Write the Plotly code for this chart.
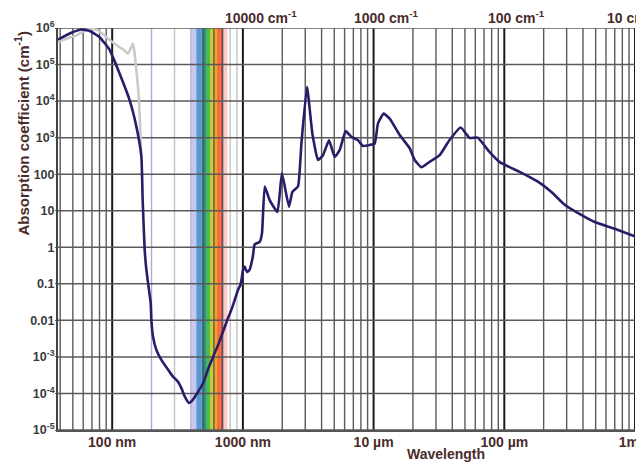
import numpy as np
import plotly.graph_objects as go

# ---------------- data ----------------
# Liquid water absorption coefficient (dark curve)
water_nm = [38.5, 39.7, 48.7, 58.1, 67.3, 80.2, 95.7, 114.1, 136.1, 153.2, 167.3, 171.1,
            177.3, 182.7, 191.2, 197.1, 199.5, 205.2, 217.9, 237.9, 267.3, 291.9, 318.7,
            338.4, 358.6, 386.9, 415.2, 453.5, 495.2, 540.7, 590.4, 644.9, 704.2, 769.1,
            816.6, 865.5, 917.4, 957, 974, 1003, 1032, 1075, 1124, 1191, 1231, 1345, 1400,
            1469, 1603, 1837, 1990, 2253, 2392, 2640, 2804, 3094, 3401, 3755, 4102, 4559,
            5040, 5504, 6116, 6762, 7597, 8298, 9337, 10195, 10806, 11949, 13285, 15842,
            18891, 20632, 23216, 26873, 32042, 38000, 46391, 54357, 62606, 77321, 92215,
            131200, 186600, 230500, 289900, 364400, 491700, 699600, 994700]
water_alpha = [4.8e5, 5.1e5, 7.4e5, 9.1e5, 8.3e5, 5.6e5, 2.5e5, 5.6e4, 1.05e4, 2.0e3, 3.0e2, 19.5,
               0.85, 0.24, 0.068, 0.030, 0.010, 3.6e-3, 1.55e-3, 8.3e-4, 4.5e-4, 2.9e-4, 2.1e-4,
               1.4e-4, 8.3e-5, 5.5e-5, 6.8e-5, 1.1e-4, 1.9e-4, 4.5e-4, 1.0e-3, 2.1e-3, 4.9e-3, 1.15e-2,
               1.95e-2, 3.6e-2, 6.8e-2, 0.093, 0.126, 0.24, 0.295, 0.21, 0.24, 0.55, 1.2, 1.4, 2.4,
               46, 19.5, 9.3, 105, 12.9, 33, 46, 690, 24500, 1290, 245, 330, 850,
               300, 457, 1510, 1050, 850, 590, 630, 690, 2450, 4570, 3310, 1175,
               513, 245, 155, 219, 331, 850, 1900, 980, 1000, 400, 214,
               115, 58, 32, 14.5, 8.7, 4.9, 3.2, 2.0]

# Ice (light grey curve, UV part)
ice_nm = [38.5, 39.2, 44.6, 53.2, 59.8, 67.3, 77.8, 90.3, 104.5, 121.0, 132.1, 144.0,
          146.1, 153.2, 160.4, 164.4, 167.3]
ice_alpha = [4.0e5, 4.2e5, 5.1e5, 6.3e5, 7.8e5, 9.5e5, 8.7e5, 5.6e5, 3.7e5, 2.6e5, 2.0e5, 3.7e5,
             3.0e5, 6.9e4, 1.05e4, 1.3e3, 3.0e2]

# Visible spectrum band: edges (nm) and colours
band_edges = [400, 440, 485, 500, 530, 560, 590, 600, 635, 675, 700, 760]
band_colors = ['#c9c8ee', '#5b97d2', '#2a7f9a', '#1ea27c', '#58b548', '#b6d335',
               '#ecc21e', '#f5a01f', '#f26a36', '#e23b3b', '#fcc9c9']

# Axis ticks
x_tickvals = [100, 1000, 1e4, 1e5, 1e6]
x_ticktext = ['100 nm', '1000 nm', '10 \u00b5m', '100 \u00b5m', '1mm']
y_tickvals = [1e-5, 1e-4, 1e-3, 1e-2, 1e-1, 1, 10, 100, 1e3, 1e4, 1e5, 1e6]
y_ticktext = ['10<sup>-5</sup>', '10<sup>-4</sup>', '10<sup>-3</sup>', '0.01', '0.1', '1', '10',
              '100', '10<sup>3</sup>', '10<sup>4</sup>', '10<sup>5</sup>', '10<sup>6</sup>']
top_lambda = [1000, 1e4, 1e5, 1e6]
top_text = ['10000 cm<sup>-1</sup>', '1000 cm<sup>-1</sup>', '100 cm<sup>-1</sup>', '10 cm<sup>-1</sup>']
top_shift = [-19, -21, -17, -29]

X_MIN, X_MAX = 38.5, 1e6

# ---------------- figure ----------------
fig = go.Figure()
fig.add_trace(go.Scatter(x=ice_nm, y=ice_alpha, mode='lines',
                         line=dict(color='#c9c9c9', width=2.6, shape='spline', smoothing=0.4),
                         hoverinfo='skip', showlegend=False))
fig.add_trace(go.Scatter(x=water_nm, y=water_alpha, mode='lines',
                         line=dict(color='#2d1b69', width=2.6, shape='spline', smoothing=0.4),
                         showlegend=False))

shapes = []
# visible band (shape coordinates in data units)
for i, c in enumerate(band_colors):
    shapes.append(dict(type='rect', xref='x', yref='paper',
                       x0=band_edges[i], x1=band_edges[i + 1],
                       y0=0, y1=1, fillcolor=c, line=dict(width=0), layer='below'))

# vertical grid lines
special = {200: '#aaaadc', 300: '#c2c2c2', 400: '#b4b4de', 800: '#c2c2c2', 900: '#c2c2c2'}
for d in [10, 100, 1000, 1e4, 1e5]:
    for k in range(1, 10):
        v = k * d
        if v < X_MIN or v > X_MAX:
            continue
        if k == 1:
            col, w = '#1a1a1a', 2
        else:
            col, w = special.get(int(round(v)), '#5a5a5a'), 1.4
        shapes.append(dict(type='line', xref='x', yref='paper', x0=v, x1=v,
                           y0=0, y1=1, line=dict(color=col, width=w), layer='below'))
shapes.append(dict(type='line', xref='x', yref='paper', x0=X_MAX, x1=X_MAX, y0=0, y1=1,
                   line=dict(color='#1a1a1a', width=2), layer='below'))
# horizontal grid lines
for v in y_tickvals:
    shapes.append(dict(type='line', xref='paper', yref='y', x0=0, x1=1,
                       y0=v, y1=v, line=dict(color='#5a5a5a', width=1.5), layer='below'))

brown = '#4a2b2b'
font = 'Liberation Sans, Arial, sans-serif'

annotations = []
for lam, txt, sh in zip(top_lambda, top_text, top_shift):
    annotations.append(dict(x=np.log10(lam), y=1, xref='x', yref='paper', text='<b>' + txt + '</b>',
                            showarrow=False, xanchor='left', yanchor='bottom', xshift=sh, yshift=1,
                            borderpad=0, font=dict(family=font, size=14, color=brown)))
annotations.append(dict(x=-0.0624, y=0.7376, xref='paper', yref='paper',
                        text='<b>Absorption coefficient (cm<sup>-1</sup>)</b>', textangle=-90,
                        showarrow=False, xanchor='center', yanchor='middle',
                        font=dict(family=font, size=15, color=brown)))
annotations.append(dict(x=0.672, y=-0.0585, xref='paper', yref='paper', text='<b>Wavelength</b>',
                        showarrow=False, xanchor='center', yanchor='middle',
                        font=dict(family=font, size=14, color=brown)))

# The page body has an 8 px margin, so the figure is sized to fill the rest of the window.
fig.update_layout(
    template='none',
    width=636, height=456,
    margin=dict(l=50, r=9, t=20, b=34, pad=0),
    paper_bgcolor='white', plot_bgcolor='white',
    shapes=shapes, annotations=annotations,
    showlegend=False,
    xaxis=dict(type='log', range=[np.log10(X_MIN), np.log10(X_MAX)], showgrid=False, zeroline=False,
               tickmode='array', tickvals=x_tickvals, ticktext=['<b>%s</b>' % t for t in x_ticktext],
               ticks='', ticklabelstandoff=-2, ticklabeloverflow='allow',
               showline=True, linecolor='#555555', linewidth=2,
               automargin=False, tickfont=dict(family=font, size=14, color=brown)),
    yaxis=dict(type='log', range=[-5, 6], showgrid=False, zeroline=False,
               tickmode='array', tickvals=y_tickvals, ticktext=['<b>%s</b>' % t for t in y_ticktext],
               ticks='outside', ticklen=1, tickcolor='#5a5a5a', showline=True, linecolor='#444444',
               linewidth=2, automargin=False, ticklabelstandoff=-2,
               tickfont=dict(family=font, size=12.5, color='#3a3a3a')),
)

fig.write_html('out.html')
